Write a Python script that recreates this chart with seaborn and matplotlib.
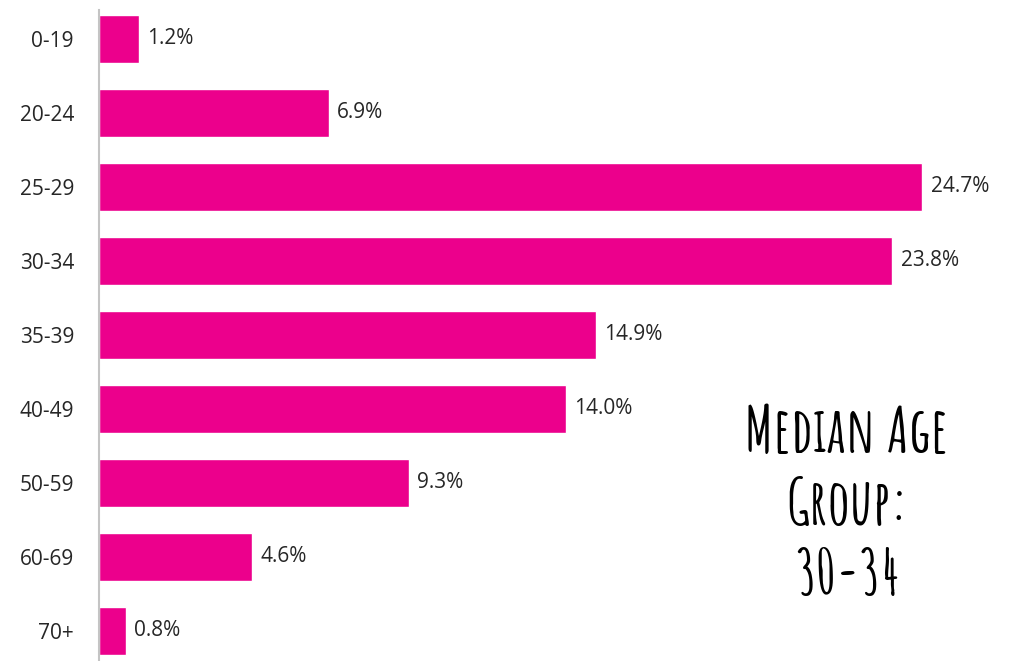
import matplotlib.pyplot as plt
import pandas as pd
import seaborn as sns

# Age group share of respondents (%)
AGE_GROUPS = ["0-19", "20-24", "25-29", "30-34", "35-39", "40-49", "50-59", "60-69", "70+"]
SHARES = [1.2, 6.9, 24.7, 23.8, 14.9, 14.0, 9.3, 4.6, 0.8]
NOTE = "Median Age\nGroup:\n30-34"

BAR_COLOR = "#EC008C"

sns.set_theme(style="white")
plt.rcParams["font.family"] = ["Open Sans", "DejaVu Sans"]

df = pd.DataFrame({"age": AGE_GROUPS, "share": SHARES})

fig = plt.figure(figsize=(10.09, 6.61), dpi=100)
ax = fig.add_axes([99 / 1009, 0, 1 - 99 / 1009, 1 - 10 / 661])

sns.barplot(data=df, x="share", y="age", orient="h", color=BAR_COLOR,
            saturation=1, width=0.65, ax=ax)

ax.bar_label(ax.containers[0], labels=[f"{v:.1f}%" for v in SHARES],
             padding=6, fontsize=15, color="#262626")

ax.set_xlim(0, 27.3)
ax.set_ylim(8.41, -0.39)
ax.set_xlabel("")
ax.set_ylabel("")
ax.set_xticks([])
ax.tick_params(axis="y", length=0, pad=18, labelsize=15, labelcolor="#262626")

for side in ["top", "right", "bottom"]:
    ax.spines[side].set_visible(False)
ax.spines["left"].set_color("#c4c4c4")
ax.spines["left"].set_linewidth(1.5)

fig.text(847 / 1009, 1 - 500 / 661, NOTE, ha="center", va="center",
         fontsize=45, fontweight="bold", linespacing=1.45, color="black",
         family=["Amatic SC", "DejaVu Sans"])

fig.savefig("out.png", dpi=100)
